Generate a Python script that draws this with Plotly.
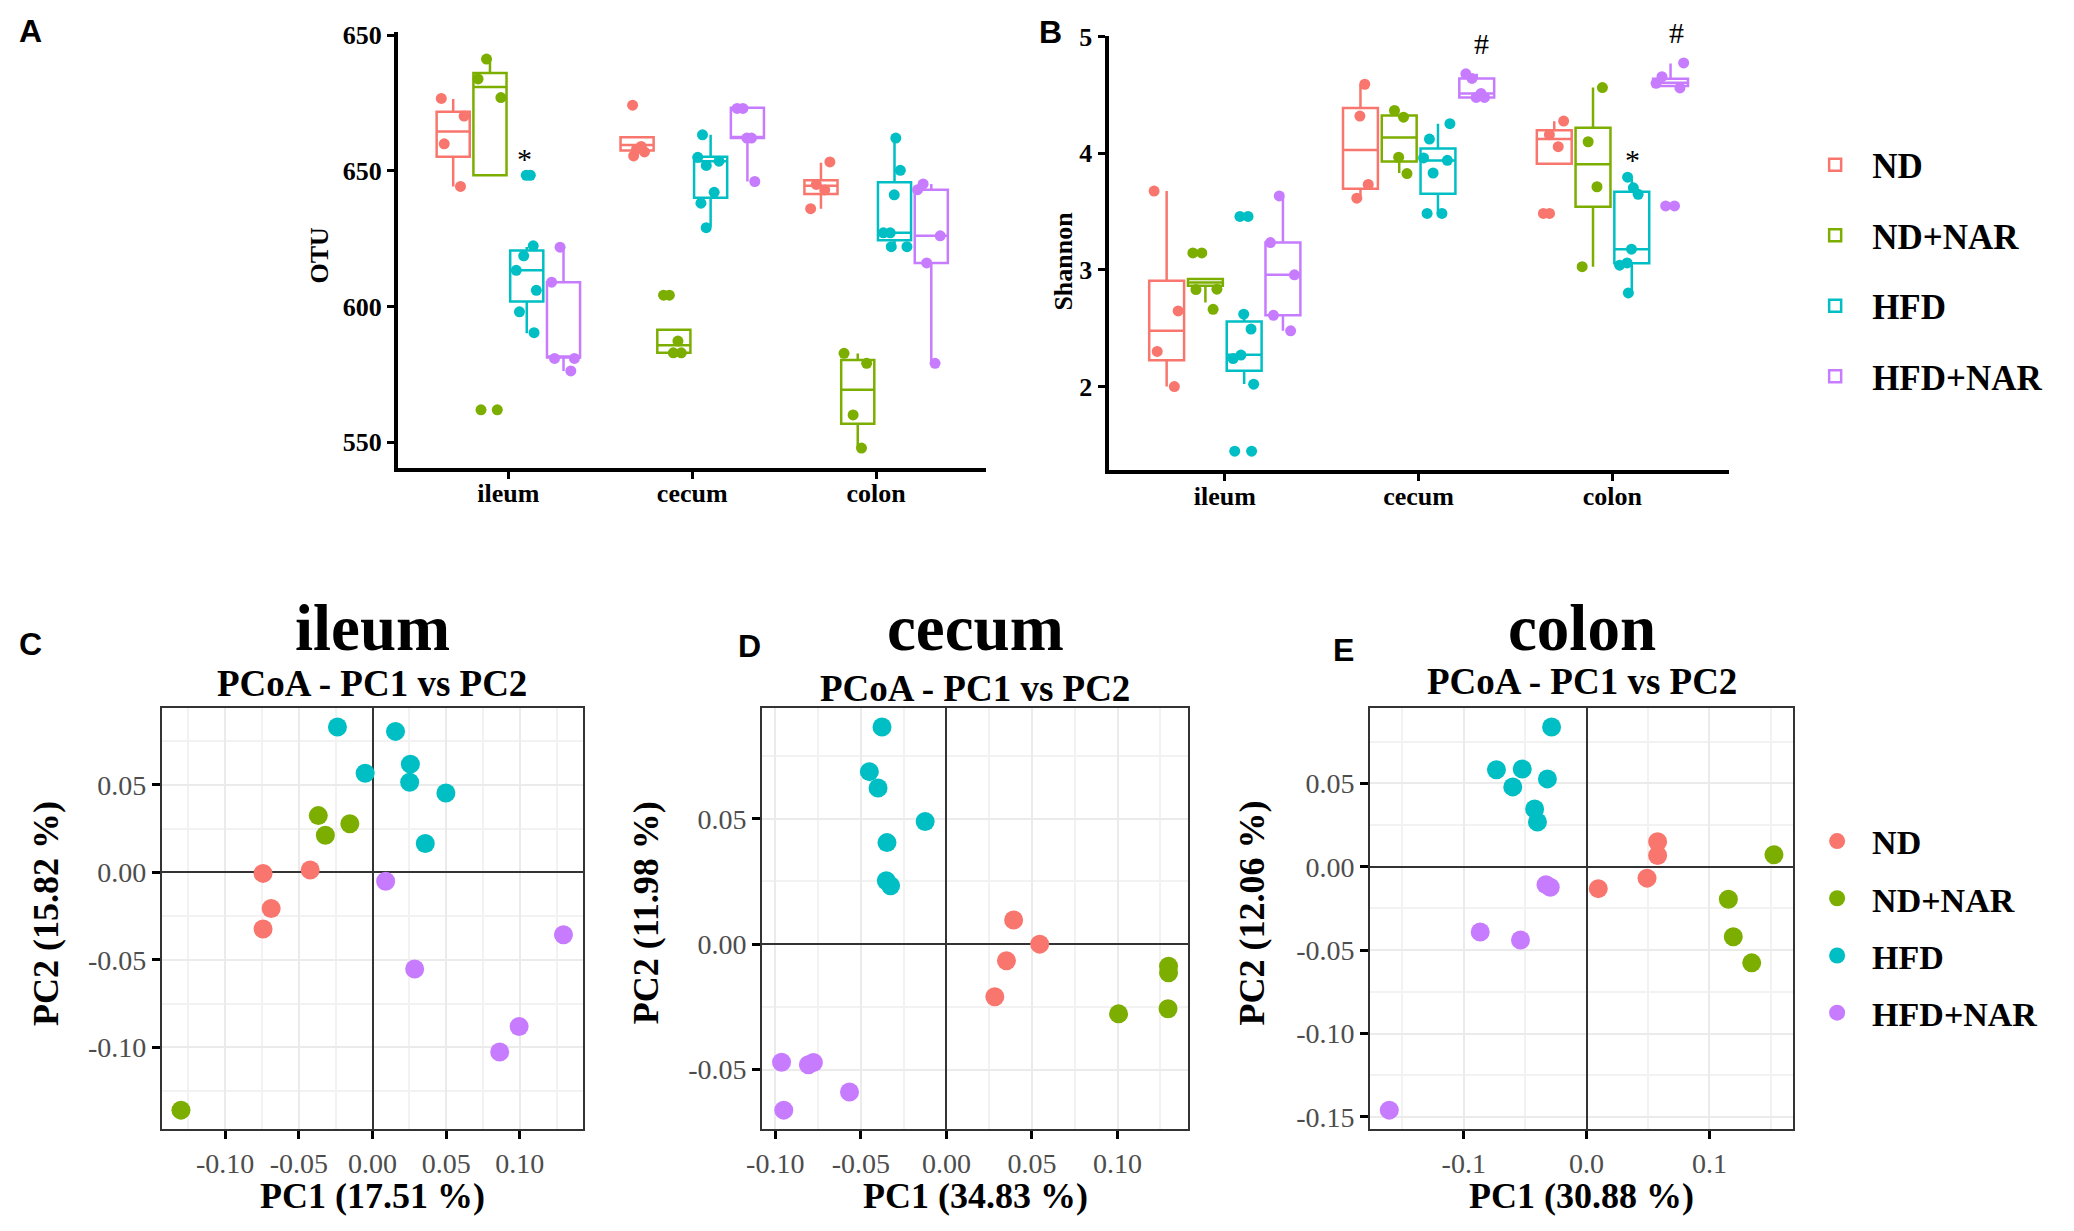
import plotly.graph_objects as go

W, H = 2074, 1231

# ---------------- data ----------------
groups = ["ND", "ND+NAR", "HFD", "HFD+NAR"]
colors = ["#F8766D", "#7CAE00", "#00BFC4", "#C77CFF"]
tissues = ["ileum", "cecum", "colon"]

# Panel A: OTU box statistics (ileum, cecum, colon)
otu_q1 = {"ND": [655.2, 657.5, 641.5], "ND+NAR": [648.4, 583.0, 556.9],
          "HFD": [601.9, 640.1, 624.5], "HFD+NAR": [581.3, 662.1, 616.1]}
otu_med = {"ND": [664.5, 659.5, 644.5], "ND+NAR": [680.9, 585.8, 569.4],
           "HFD": [613.4, 653.6, 627.2], "HFD+NAR": [581.3, 662.1, 626.1]}
otu_q3 = {"ND": [671.8, 662.4, 646.6], "ND+NAR": [686.1, 591.5, 580.3],
          "HFD": [620.7, 655.2, 645.8], "HFD+NAR": [609.0, 673.3, 643.1]}
otu_lo = {"ND": [644.3, 655.5, 636.1], "ND+NAR": [648.4, 583.0, 548.2],
          "HFD": [590.2, 629.4, 622.1], "HFD+NAR": [576.3, 646.1, 579.1]}
otu_hi = {"ND": [676.5, 662.4, 653.0], "ND+NAR": [691.2, 591.5, 582.7],
          "HFD": [622.0, 663.3, 662.1], "HFD+NAR": [621.9, 673.3, 645.2]}
otu_pts = {
    "ND": [[676.7, 670.2, 660.0, 644.3], [674.2, 659.0, 657.0, 655.5, 658.0], [653.3, 645.0, 643.0, 636.1]],
    "ND+NAR": [[691.2, 683.9, 677.0, 562.0, 562.0], [604.2, 604.2, 587.3, 583.0, 583.0], [582.8, 579.1, 560.1, 547.9]],
    "HFD": [[648.4, 648.4, 622.4, 618.7, 613.4, 606.0, 598.1, 590.4],
            [663.3, 655.0, 653.6, 652.0, 642.1, 638.1, 629.1],
            [662.1, 650.2, 641.2, 627.2, 627.2, 622.1, 622.1]],
    "HFD+NAR": [[621.9, 609.0, 580.9, 580.9, 576.3], [673.0, 673.0, 662.1, 662.1, 646.1], [645.2, 643.1, 626.1, 616.1, 579.1]],
}
otu_ticks = [550, 600, 650, 700]
otu_ticklabels = ["550", "600", "650", "650"]

# Panel B: Shannon box statistics
sh_q1 = {"ND": [2.225, 3.696, 3.910], "ND+NAR": [2.865, 3.930, 3.541],
         "HFD": [2.135, 3.653, 3.057], "HFD+NAR": [2.611, 4.479, 4.578]}
sh_med = {"ND": [2.478, 4.029, 4.122], "ND+NAR": [2.893, 4.135, 3.907],
          "HFD": [2.273, 3.938, 3.178], "HFD+NAR": [2.958, 4.513, 4.606]}
sh_q3 = {"ND": [2.907, 4.389, 4.198], "ND+NAR": [2.921, 4.325, 4.220],
         "HFD": [2.558, 4.042, 3.670], "HFD+NAR": [3.234, 4.642, 4.640]}
sh_lo = {"ND": [2.000, 3.620, 3.910], "ND+NAR": [2.720, 3.831, 3.028],
         "HFD": [2.022, 3.484, 2.803], "HFD+NAR": [2.478, 4.479, 4.578]}
sh_hi = {"ND": [3.676, 4.592, 4.274], "ND+NAR": [2.921, 4.325, 4.564],
         "HFD": [2.611, 4.254, 3.780], "HFD+NAR": [3.634, 4.682, 4.769]}
sh_pts = {
    "ND": [[3.676, 2.648, 2.301, 2.000], [4.592, 4.319, 3.733, 3.615], [4.276, 4.160, 4.057, 3.484, 3.484]],
    "ND+NAR": [[3.146, 3.146, 2.831, 2.835, 2.662], [4.367, 4.310, 3.966, 3.826], [4.564, 4.099, 3.713, 3.028]],
    "HFD": [[3.459, 3.459, 2.620, 2.493, 2.270, 2.240, 2.020, 1.445, 1.445],
            [4.254, 4.122, 3.940, 3.960, 3.831, 3.484, 3.484],
            [3.795, 3.704, 3.648, 3.178, 3.060, 3.040, 2.803]],
    "HFD+NAR": [[3.634, 3.234, 2.958, 2.611, 2.478], [4.682, 4.642, 4.513, 4.479, 4.479], [4.775, 4.657, 4.600, 4.560, 3.549, 3.549]],
}
sh_ticks = [2, 3, 4, 5]

# PCoA coordinates
ileum_pc1 = {"ND": [-0.0743, -0.0423, -0.0688, -0.0743],
             "ND+NAR": [-0.0368, -0.0154, -0.0320, -0.1300],
             "HFD": [-0.0238, 0.0156, -0.0050, 0.0257, 0.0252, 0.0498, 0.0358],
             "HFD+NAR": [0.0089, 0.0286, 0.0995, 0.0863, 0.1296]}
ileum_pc2 = {"ND": [-0.0006, 0.0013, -0.0206, -0.0324],
             "ND+NAR": [0.0324, 0.0277, 0.0212, -0.1358],
             "HFD": [0.0830, 0.0805, 0.0566, 0.0618, 0.0515, 0.0453, 0.0165],
             "HFD+NAR": [-0.0051, -0.0552, -0.0880, -0.1026, -0.0356]}
cecum_pc1 = {"ND": [0.0393, 0.0545, 0.0351, 0.0283],
             "ND+NAR": [0.1298, 0.1298, 0.1295, 0.1006],
             "HFD": [-0.0376, -0.0450, -0.0399, -0.0124, -0.0347, -0.0351, -0.0326],
             "HFD+NAR": [-0.0963, -0.0806, -0.0777, -0.0566, -0.0950]}
cecum_pc2 = {"ND": [0.0096, 0.0000, -0.0066, -0.0210],
             "ND+NAR": [-0.0088, -0.0114, -0.0258, -0.0278],
             "HFD": [0.0866, 0.0688, 0.0623, 0.0489, 0.0405, 0.0253, 0.0233],
             "HFD+NAR": [-0.0471, -0.0481, -0.0472, -0.0590, -0.0662]}
colon_pc1 = {"ND": [0.0578, 0.0578, 0.0492, 0.0095],
             "ND+NAR": [0.1525, 0.1154, 0.1194, 0.1344],
             "HFD": [-0.0285, -0.0734, -0.0524, -0.0319, -0.0601, -0.0423, -0.0400],
             "HFD+NAR": [-0.0331, -0.0296, -0.0866, -0.0538, -0.1606]}
colon_pc2 = {"ND": [0.0150, 0.0068, -0.0068, -0.0131],
             "ND+NAR": [0.0072, -0.0195, -0.0420, -0.0576],
             "HFD": [0.0838, 0.0582, 0.0586, 0.0527, 0.0479, 0.0346, 0.0268],
             "HFD+NAR": [-0.0107, -0.0123, -0.0391, -0.0439, -0.1459]}

pcoa_titles = ["ileum", "cecum", "colon"]
pcoa_pc1_labels = ["PC1 (17.51 %)", "PC1 (34.83 %)", "PC1 (30.88 %)"]
pcoa_pc2_labels = ["PC2 (15.82 %)", "PC2 (11.98 %)", "PC2 (12.06 %)"]
pcoa_xticks = [[-0.10, -0.05, 0.00, 0.05, 0.10], [-0.10, -0.05, 0.00, 0.05, 0.10], [-0.1, 0.0, 0.1]]
pcoa_xfmt = ["{:.2f}", "{:.2f}", "{:.1f}"]
pcoa_yticks = [[-0.10, -0.05, 0.00, 0.05], [-0.05, 0.00, 0.05], [-0.15, -0.10, -0.05, 0.00, 0.05]]

# ---------------- helpers ----------------
def px(x):
    return x / W

def py(y):
    return 1 - y / H

SERIF = "Liberation Serif"
SANS = "Liberation Sans"
dodge = [-0.3, -0.1, 0.1, 0.3]
box_w = 0.18

fig = go.Figure()

# ---------------- boxplots A and B ----------------
def add_boxes(xa, ya, q1, med, q3, lo, hi, pts, show_legend):
    for gi, g in enumerate(groups):
        xs = [i + 1 + dodge[gi] for i in range(len(tissues))]
        fig.add_trace(go.Box(
            x=xs, q1=q1[g], median=med[g], q3=q3[g], lowerfence=lo[g], upperfence=hi[g],
            name=g, legendgroup="box" + g, showlegend=show_legend, legend="legend",
            boxpoints=False, width=box_w, whiskerwidth=0,
            line=dict(color=colors[gi], width=2.5), fillcolor="white",
            xaxis=xa, yaxis=ya))
    for gi, g in enumerate(groups):
        xv, yv = [], []
        for ti in range(len(tissues)):
            xv += [ti + 1 + dodge[gi]] * len(pts[g][ti])
            yv += pts[g][ti]
        fig.add_trace(go.Box(
            x=xv, y=yv, name=g, legendgroup="box" + g, showlegend=False,
            boxpoints="all", jitter=0.85, pointpos=0, width=box_w,
            line=dict(color="rgba(0,0,0,0)", width=0), fillcolor="rgba(0,0,0,0)",
            marker=dict(color=colors[gi], size=11, opacity=1),
            xaxis=xa, yaxis=ya))

add_boxes("x", "y", otu_q1, otu_med, otu_q3, otu_lo, otu_hi, otu_pts, True)
add_boxes("x2", "y2", sh_q1, sh_med, sh_q3, sh_lo, sh_hi, sh_pts, False)

# ---------------- PCoA C, D, E ----------------
pc1_sets = [ileum_pc1, cecum_pc1, colon_pc1]
pc2_sets = [ileum_pc2, cecum_pc2, colon_pc2]
for k in range(3):
    for gi, g in enumerate(groups):
        fig.add_trace(go.Scatter(
            x=pc1_sets[k][g], y=pc2_sets[k][g], mode="markers", name=g,
            legendgroup="pc" + g, showlegend=(k == 0), legend="legend2",
            marker=dict(color=colors[gi], size=19, line=dict(width=0)),
            xaxis="x%d" % (k + 3), yaxis="y%d" % (k + 3)))

def expand(vals):
    lo, hi = min(vals), max(vals)
    d = (hi - lo) * 0.05
    return [lo - d, hi + d]

def minor_vals(ticks):
    step = ticks[1] - ticks[0]
    return [ticks[0] - step / 2] + [t + step / 2 for t in ticks]

# ---------------- layout ----------------
box_axis_common = dict(showline=True, linecolor="black", linewidth=4, ticks="outside",
                       ticklen=7, tickwidth=3, tickcolor="black", showgrid=False, zeroline=False,
                       tickfont=dict(family=SERIF, size=26, color="black", weight="bold"))

layout = dict(
    width=W, height=H, margin=dict(l=0, r=0, t=0, b=0),
    paper_bgcolor="white", plot_bgcolor="white", boxmode="overlay",
    xaxis=dict(domain=[px(385), px(978)], range=[0.4, 3.6], tickvals=[1, 2, 3], ticktext=tissues,
               anchor="y", ticklabelstandoff=-8, **box_axis_common),
    yaxis=dict(domain=[py(460.6), py(18.9)], range=[540.7, 701.3], tickvals=otu_ticks,
               ticktext=otu_ticklabels, anchor="x", **box_axis_common),
    xaxis2=dict(domain=[px(1101), px(1726)], range=[0.4, 3.6], tickvals=[1, 2, 3], ticktext=tissues,
                anchor="y2", ticklabelstandoff=-8, **box_axis_common),
    yaxis2=dict(domain=[py(463.5), py(23.4)], range=[1.28, 5.005], tickvals=sh_ticks,
                ticktext=[str(t) for t in sh_ticks], anchor="x2", **box_axis_common),
    legend=dict(x=px(1796), y=py(124), xanchor="left", yanchor="top", bgcolor="rgba(0,0,0,0)",
                font=dict(family=SERIF, size=35, color="black", weight="bold"),
                tracegroupgap=22, itemsizing="trace", itemwidth=64),
    legend2=dict(x=px(1800), y=py(810), xanchor="left", yanchor="top", bgcolor="rgba(0,0,0,0)",
                 font=dict(family=SERIF, size=34, color="black", weight="bold"),
                 tracegroupgap=10, itemsizing="trace", itemwidth=60),
)

pc_xdom = [[147, 571], [752, 1181], [1364.6, 1791]]
pc_ydom = [py(1131), py(704)]
for k in range(3):
    allx = sum(pc1_sets[k].values(), [])
    ally = sum(pc2_sets[k].values(), [])
    common = dict(showline=True, mirror=True, linecolor="#333333", linewidth=2,
                  ticks="outside", ticklen=8, tickwidth=3, tickcolor="black",
                  showgrid=True, gridcolor="#EBEBEB", gridwidth=2,
                  zeroline=True, zerolinecolor="#333333", zerolinewidth=1.5,
                  tickfont=dict(family=SERIF, size=28, color="#4D4D4D"))
    layout["xaxis%d" % (k + 3)] = dict(
        domain=[px(pc_xdom[k][0]), px(pc_xdom[k][1])], range=expand(allx), anchor="y%d" % (k + 3),
        tickmode="array", tickvals=pcoa_xticks[k], ticktext=[pcoa_xfmt[k].format(v) for v in pcoa_xticks[k]],
        minor=dict(tickmode="array", tickvals=minor_vals(pcoa_xticks[k]), showgrid=True,
                   gridcolor="#F2F2F2", gridwidth=1.5, ticks=""),
        **common)
    layout["yaxis%d" % (k + 3)] = dict(
        domain=pc_ydom, range=expand(ally), anchor="x%d" % (k + 3),
        tickmode="array", tickvals=pcoa_yticks[k], ticktext=["{:.2f}".format(v) for v in pcoa_yticks[k]],
        minor=dict(tickmode="array", tickvals=minor_vals(pcoa_yticks[k]), showgrid=True,
                   gridcolor="#F2F2F2", gridwidth=1.5, ticks=""),
        **common)

fig.update_layout(**layout)

# ---------------- annotations ----------------
ann = []
def text(x, y, s, size, family=SERIF, bold=True, angle=0, color="black", xref="paper", yref="paper",
         xanchor="center", yanchor="middle"):
    ann.append(dict(x=x, y=y, xref=xref, yref=yref, text=s, showarrow=False, textangle=angle,
                    xanchor=xanchor, yanchor=yanchor,
                    font=dict(family=family, size=size, color=color, weight="bold" if bold else "normal")))

# panel letters
for (lx, ly, lt) in [(15, 18, "A"), (1043, 19, "B"), (15, 639, "C"), (739, 641, "D"), (1338, 645, "E")]:
    text(px(lx), py(ly), lt, 32, family=SANS)

# axis titles A/B
text(px(306), py(245), "OTU", 26, angle=-90)
text(px(1056), py(251), "Shannon", 26, angle=-90)

# significance marks
text(1.086, 654.5, "*", 30, bold=False, xref="x", yref="y")
text(2.327, 4.944, "#", 30, bold=False, xref="x2", yref="y2")
text(px(1673), py(20), "#", 30, bold=False)
text(3.104, 3.951, "*", 30, bold=False, xref="x2", yref="y2")

# PCoA titles and axis titles
sub_y = [679, 684, 677]
ytitle_x = [30, 635, 1246]
for k in range(3):
    cx = (pc_xdom[k][0] + pc_xdom[k][1]) / 2
    text(px(cx), py(623), pcoa_titles[k], 65)
    text(px(cx), py(sub_y[k]), "PCoA - PC1 vs PC2", 37)
    text(px(cx), py(1199), pcoa_pc1_labels[k], 36)
    text(px(ytitle_x[k]), py(912), pcoa_pc2_labels[k], 36, angle=-90)

fig.update_layout(annotations=ann)

fig.write_html(
    "out.html",
    config={"displayModeBar": False},
    post_script=("document.body.style.margin='0';document.body.style.overflow='hidden';"
                 "var d=document.getElementById('{plot_id}');d.style.position='absolute';"
                 "d.style.left='0px';d.style.top='0px';"),
)
